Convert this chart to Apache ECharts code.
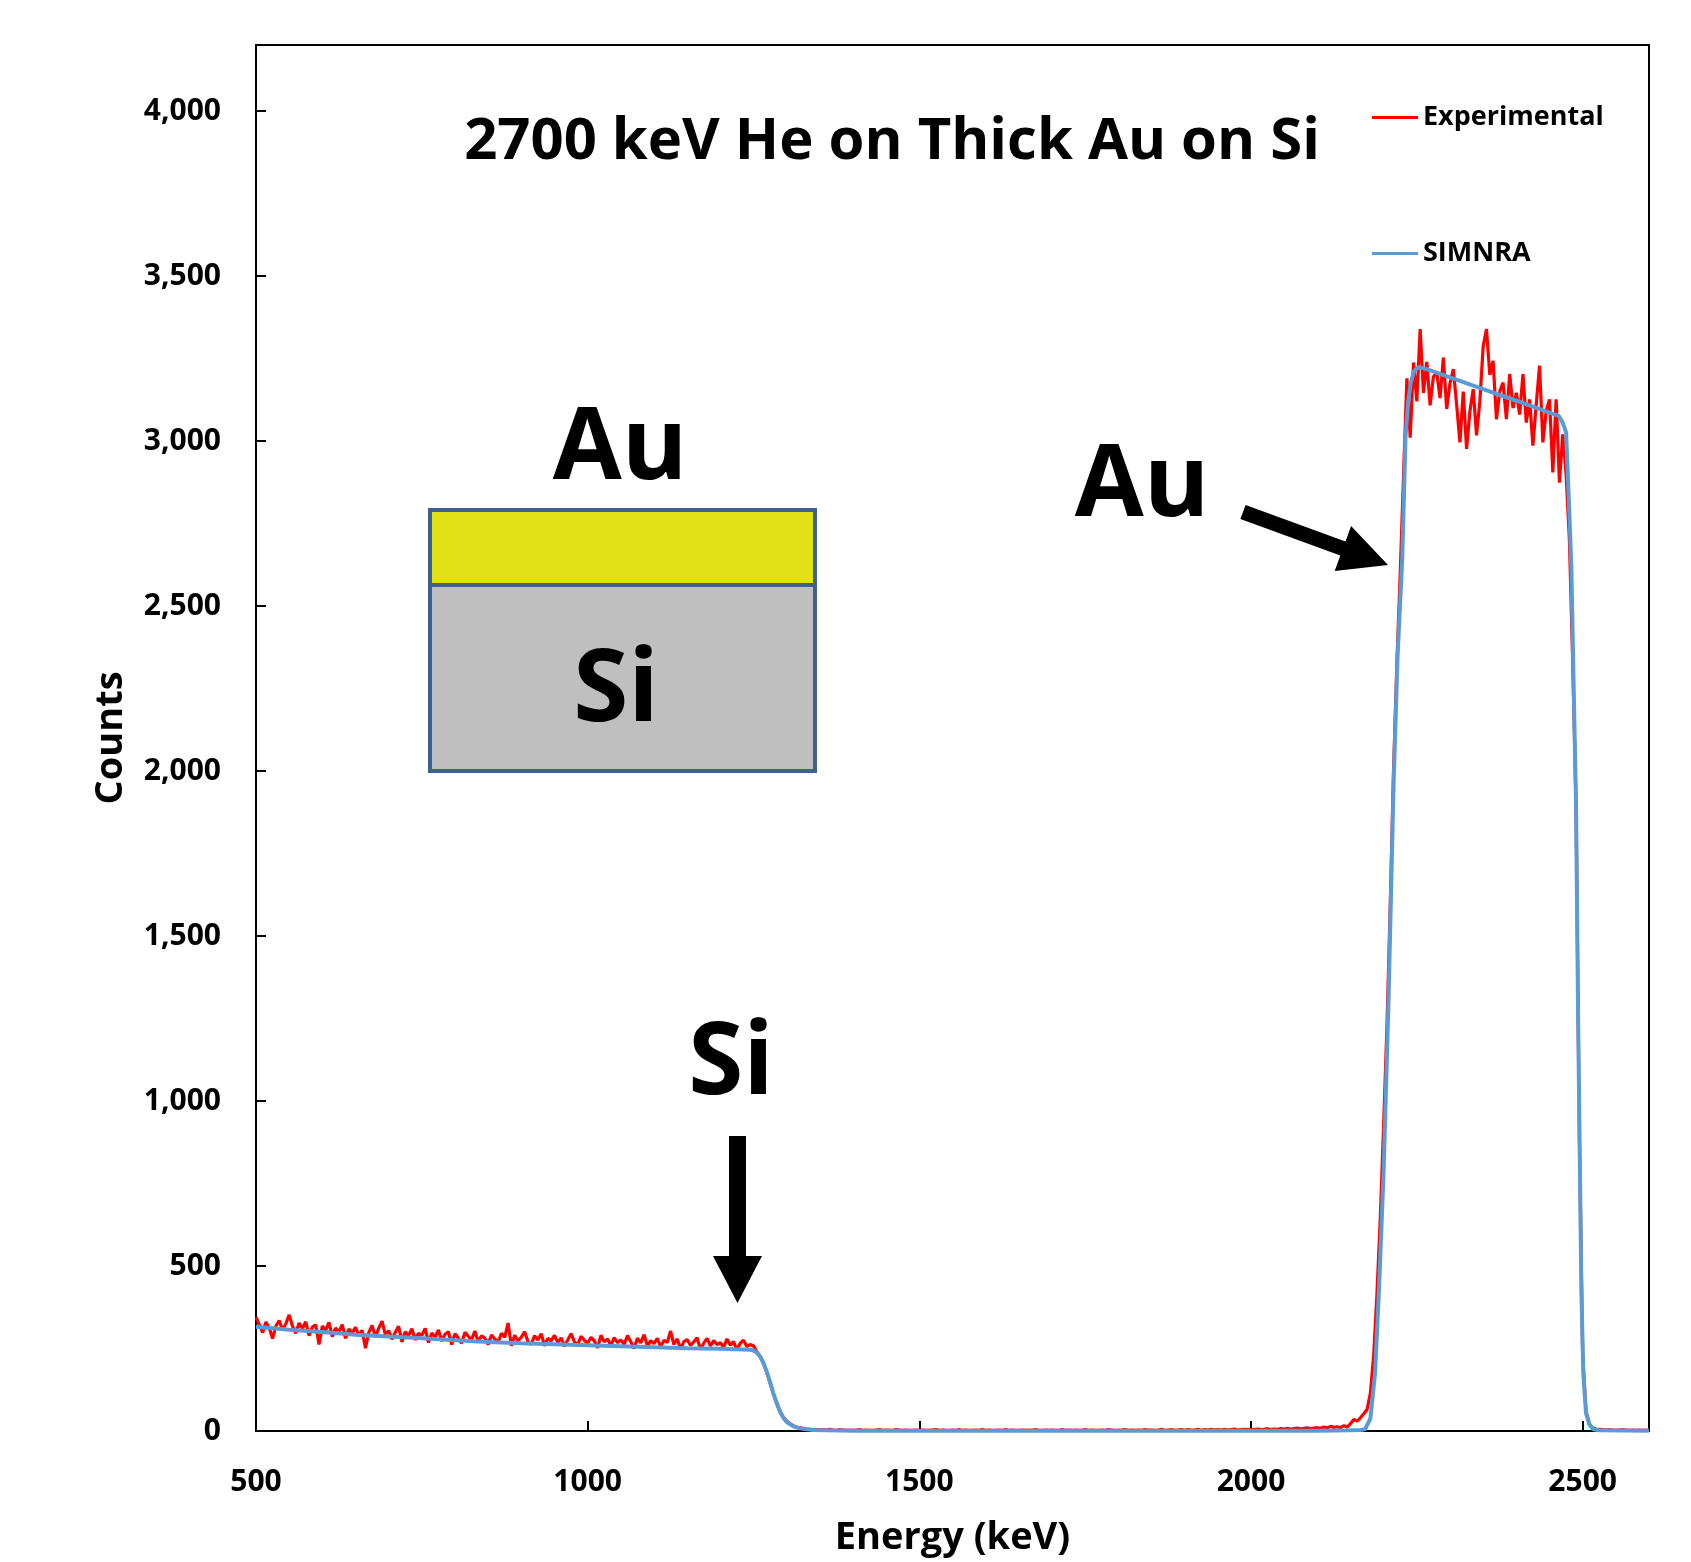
<!DOCTYPE html>
<html>
<head>
<meta charset="utf-8">
<script src="https://cdn.jsdelivr.net/npm/echarts@6/dist/echarts.min.js"></script>
<style>html,body{margin:0;padding:0;background:#fff}#c{width:1691px;height:1562px}</style>
</head>
<body>
<div id="c"></div>
<script>
// ---------- DATA ----------
const titleText = '2700 keV He on Thick Au on Si';
const seriesNames = ['Experimental', 'SIMNRA'];

// Experimental spectrum: channels every 5 keV starting at 500 keV
const expEnergyStart = 500;
const expEnergyStep = 5;
// 500 - 1245 keV (Si plateau)
const expSiPlateau = [
  345,322,298,330,312,280,318,335,306,325,
  352,318,296,327,310,331,289,315,322,262,
  318,305,329,286,312,300,322,281,309,296,
  314,289,305,251,298,320,284,311,333,292,
  304,278,299,317,270,301,288,310,276,296,
  290,311,268,297,284,306,273,293,301,262,
  295,281,266,299,287,276,303,270,289,281,
  262,291,279,268,296,284,327,258,290,273,
  284,301,271,262,289,276,295,258,281,273,
  290,268,282,257,276,295,270,261,287,275,
  266,284,273,252,290,270,279,259,283,268,
  276,262,289,271,250,281,267,292,258,274,
  265,281,254,275,268,303,262,279,249,271,
  277,259,270,283,247,266,281,258,274,262,
  268,253,279,260,271,245,266,275,256,262
];
// 1250 - 1345 keV (Si edge)
const expSiEdge = [258,240,226,206,178,146,112,86,60,42,30,22,16,12,10,8,6,5,4,4];
// 1350 - 2145 keV (gap)
const expGap = [
  3,4,2,5,3,2,4,3,2,3,
  2,3,4,2,3,2,2,3,4,2,
  3,2,2,4,3,2,3,2,2,3,
  2,3,2,2,3,4,2,3,2,2,
  3,2,4,2,3,2,2,3,2,4,
  2,3,2,2,3,2,4,2,3,2,
  2,3,2,3,2,4,2,2,3,2,
  3,2,2,4,2,3,2,3,2,2,
  4,2,3,2,2,3,2,4,3,2,
  2,3,4,2,3,2,3,2,4,3,
  3,2,3,5,2,3,4,2,3,4,
  2,4,3,3,5,2,4,3,5,3,
  4,3,5,3,4,6,3,4,5,4,
  5,4,6,4,5,7,4,6,5,7,
  6,8,5,7,9,6,8,10,7,9,
  10,8,12,9,14,11,13,10,16,12
];
// 2150 - 2225 keV (Au rising edge)
const expAuRise = [22,35,30,40,52,65,115,230,420,650,930,1230,1600,2010,2330,2600];
// 2230 - 2520 keV (Au plateau and falling edge)
const expAuPeak = [
  2900,3190,3010,3238,3120,3339,3146,3240,3108,3195,
  3208,3130,3253,3097,3175,3218,3110,2996,3150,2976,
  3090,3157,3017,3120,3287,3339,3200,3243,3066,3150,
  3177,3066,3203,3100,3146,3080,3203,3056,3126,2986,
  3110,3228,2996,3090,3126,2905,3126,2874,3020,2900,
  2700,2330,1900,900,230,60,22,10,6
];
// 2525 - 2600 keV (tail)
const expTail = [5,4,3,4,3,2,3,4,3,2,3,2,3,2,3,2];

// SIMNRA simulation
const simEnergy = [500,550,600,650,700,750,800,850,900,950,1000,1050,1100,1150,1200,1245,
  1250,1255,1260,1265,1270,1275,1280,1285,1290,1295,1300,1310,1320,1330,1340,1360,1400,2100,
  2150,2165,2172,2180,2187,2193,2200,2207,2215,2221,2228,2233,2237,2241,2246,2253,2266,
  2300,2350,2400,2450,2464,2470,2475,2480,2483,2486,2490,2493,2496,2498,2501,2505,2510,2516,2525,2600];
const simCounts = [316,307,300,292,286,281,275,270,266,263,260,257,254,251,249,246,
  244,238,226,206,180,148,114,84,58,40,27,14,8,5,3,2,1,1,
  2,3,5,38,174,429,790,1280,1961,2350,2642,3016,3120,3178,3213,3224,3217,
  3193,3157,3122,3086,3076,3055,3026,2780,2611,2300,1900,1280,770,429,174,55,20,5,2,1];

const xTicks = [500, 1000, 1500, 2000, 2500];
const yTicks = [0, 500, 1000, 1500, 2000, 2500, 3000, 3500, 4000];

// ---------- BUILD ----------
const expCounts = [].concat(expSiPlateau, expSiEdge, expGap, expAuRise, expAuPeak, expTail);
const expData = expCounts.map((c, i) => [expEnergyStart + i * expEnergyStep, c]);
const simData = simEnergy.map((e, i) => [e, simCounts[i]]);

const FONT = '"Open Sans", "Noto Sans", sans-serif';
const chart = echarts.init(document.getElementById('c'), null, {renderer: 'canvas'});

const bigText = (txt, x, y) => ({
  type: 'text', x: x, y: y, silent: true,
  style: {text: txt, fill: '#000', font: 'bold 100px ' + FONT,
    align: 'center', verticalAlign: 'middle', textAlign: 'center', textVerticalAlign: 'middle'}
});

chart.setOption({
  animation: false,
  backgroundColor: '#fff',
  textStyle: {fontFamily: FONT},
  title: {
    text: titleText, left: 892, top: 113, padding: 0, textAlign: 'center',
    textStyle: {fontFamily: FONT, fontWeight: 'bold', fontSize: 58, color: '#000'}
  },
  legend: {
    orient: 'vertical', left: 1372, top: 104, padding: 0, itemGap: 109,
    itemWidth: 46, itemHeight: 3, icon: 'rect', data: seriesNames,
    textStyle: {fontFamily: FONT, fontWeight: 'bold', fontSize: 27, color: '#000'}
  },
  grid: {left: 256, right: 42, top: 45, bottom: 129, show: true, borderColor: '#000', borderWidth: 2},
  xAxis: {
    type: 'value', min: 500, max: 2600, interval: 500,
    name: 'Energy (keV)', nameLocation: 'middle', nameGap: 88,
    nameTextStyle: {fontFamily: FONT, fontWeight: 'bold', fontSize: 38, color: '#000'},
    axisLine: {lineStyle: {color: '#000', width: 2}},
    axisTick: {inside: true, length: 10, lineStyle: {color: '#000', width: 2}},
    axisLabel: {margin: 36, fontFamily: FONT, fontWeight: 'bold', fontSize: 30, color: '#000',
      formatter: v => xTicks.indexOf(v) >= 0 ? String(v) : ''},
    splitLine: {show: false}
  },
  yAxis: {
    type: 'value', min: 0, max: 4200, interval: 500,
    name: 'Counts', nameLocation: 'middle', nameGap: 126, nameRotate: 90,
    nameTextStyle: {fontFamily: FONT, fontWeight: 'bold', fontSize: 38, color: '#000'},
    axisLine: {lineStyle: {color: '#000', width: 2}},
    axisTick: {inside: true, length: 10, lineStyle: {color: '#000', width: 2}},
    axisLabel: {margin: 35, fontFamily: FONT, fontWeight: 'bold', fontSize: 30, color: '#000',
      formatter: v => yTicks.indexOf(v) >= 0 ? v.toLocaleString('en-US') : ''},
    splitLine: {show: false}
  },
  series: [
    {name: seriesNames[0], type: 'line', data: expData, symbol: 'none', showSymbol: false,
      lineStyle: {color: '#FF0000', width: 3.2}, itemStyle: {color: '#FF0000'}, z: 2},
    {name: seriesNames[1], type: 'line', data: simData, symbol: 'none', showSymbol: false,
      lineStyle: {color: '#5B9BD5', width: 4}, itemStyle: {color: '#5B9BD5'}, z: 3}
  ],
  graphic: [
    {type: 'rect', silent: true, shape: {x: 430, y: 585, width: 385, height: 186},
      style: {fill: '#BFBFBF', stroke: '#3E6090', lineWidth: 4}},
    {type: 'rect', silent: true, shape: {x: 430, y: 510, width: 385, height: 75},
      style: {fill: '#E1E116', stroke: '#3E6090', lineWidth: 4}},
    bigText('Au', 620, 451),
    bigText('Si', 616, 693),
    bigText('Au', 1142, 488),
    bigText('Si', 731, 1066),
    {type: 'polygon', silent: true,
      shape: {points: [[1240.4, 519.0], [1245.6, 505.0], [1345.5, 541.5], [1351.1, 526.0], [1388, 565], [1334.7, 571.0], [1340.3, 555.5]]},
      style: {fill: '#000'}},
    {type: 'polygon', silent: true,
      shape: {points: [[729, 1136], [746, 1136], [746, 1256], [762, 1256], [737.5, 1303], [713, 1256], [729, 1256]]},
      style: {fill: '#000'}}
  ]
});
</script>
</body>
</html>
